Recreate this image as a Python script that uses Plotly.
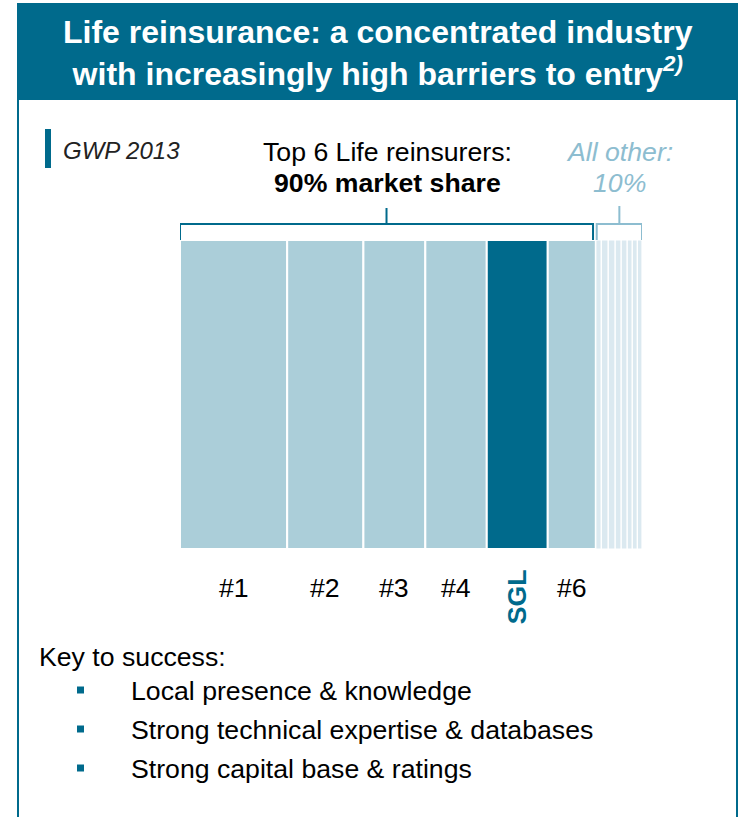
import plotly.graph_objects as go

# Market share of gross written premium 2013 (%), top 6 life reinsurers
players = ["#1", "#2", "#3", "#4", "SGL", "#6"]
shares = [23.2, 16.5, 13.4, 13.3, 13.2, 10.4]
# remaining market split across smaller reinsurers (%)
other_shares = [1.2, 1.5, 1.5, 1.3, 1.3, 1.1, 1.1, 1.0]

key_points = [
    "Local presence & knowledge",
    "Strong technical expertise & databases",
    "Strong capital base & ratings",
]

W, H = 742, 817
TEAL = "#006a8c"
LIGHT = "#abced9"
PALE = "#dbe9f0"
OTHER_TXT = "#8dbdd0"
FONT = "Liberation Sans, Arial, sans-serif"
BODY = 26.67   # 20 pt
TITLE = 32     # 24 pt
SMALL = 24     # 18 pt


def px(x):
    return x / W


def py(y):
    return 1 - y / H


def centers(widths, start=0.0):
    out, acc = [], start
    for w in widths:
        out.append(acc + w / 2)
        acc += w
    return out


top_total = sum(shares)
top_x = centers(shares)
other_x = centers(other_shares, top_total)
all_total = top_total + sum(other_shares)

fig = go.Figure()
fig.add_trace(go.Bar(
    x=top_x, y=[1] * len(shares), width=shares,
    marker=dict(color=[TEAL if p == "SGL" else LIGHT for p in players],
                line=dict(color="white", width=2)),
    hoverinfo="skip", showlegend=False,
))
fig.add_trace(go.Bar(
    x=other_x, y=[1] * len(other_shares), width=other_shares,
    marker=dict(color=PALE, line=dict(color="white", width=1.2)),
    hoverinfo="skip", showlegend=False,
))

fig.update_layout(
    width=W, height=H,
    margin=dict(l=0, r=0, t=0, b=0),
    paper_bgcolor="white", plot_bgcolor="white",
    barmode="overlay",
    xaxis=dict(domain=[px(180), px(642)], range=[0, all_total],
               visible=False, fixedrange=True),
    yaxis=dict(domain=[py(549), py(240)], range=[0, 1],
               visible=False, fixedrange=True),
    font=dict(family=FONT, color="black"),
)

shapes = []
# header band and outer frame
shapes.append(dict(type="rect", xref="paper", yref="paper",
                   x0=px(18), x1=px(737), y0=py(100), y1=py(3),
                   fillcolor=TEAL, line=dict(width=0), layer="below"))
for xv in (18, 737):
    shapes.append(dict(type="line", xref="paper", yref="paper",
                       x0=px(xv), x1=px(xv), y0=py(3), y1=py(817),
                       line=dict(color=TEAL, width=2)))
# marker bar beside "GWP 2013"
shapes.append(dict(type="rect", xref="paper", yref="paper",
                   x0=px(45), x1=px(51), y0=py(168), y1=py(129),
                   fillcolor=TEAL, line=dict(width=0)))


def bracket(x0, x1, color, top=206):
    mid = (x0 + x1) / 2
    path = (f"M {x0},{py(240)} L {x0},{py(224)} L {x1},{py(224)} L {x1},{py(240)}")
    s = [dict(type="path", xref="x", yref="paper", path=path,
              line=dict(color=color, width=2))]
    s.append(dict(type="line", xref="x", yref="paper", x0=mid, x1=mid,
                  y0=py(224), y1=py(top), line=dict(color=color, width=2)))
    return s


shapes += bracket(0, top_total - 0.6, TEAL, 208)
shapes += bracket(top_total + 0.2, all_total, OTHER_TXT, 206)

# bullets for key points
for i in range(len(key_points)):
    yc = 690 + i * 39
    shapes.append(dict(type="rect", xref="paper", yref="paper",
                       x0=px(77), x1=px(84), y0=py(yc + 3.5), y1=py(yc - 3.5),
                       fillcolor=TEAL, line=dict(width=0)))

fig.update_layout(shapes=shapes)

ann = []


def text(t, x, y, size, color="black", xanchor="center", xref="paper", **kw):
    ann.append(dict(text=t, xref=xref, yref="paper",
                    x=x if xref == "x" else px(x), y=py(y),
                    xanchor=xanchor, yanchor="middle", showarrow=False,
                    font=dict(size=size, color=color, family=FONT), **kw))


# two-line title in the header band
text("<b>Life reinsurance: a concentrated industry<br>"
     "with increasingly high barriers to entry<sup><i>2)</i></sup></b>",
     378, 53, TITLE, "white", align="center")

text("<i>GWP 2013</i>", 61, 150, SMALL, "#222222", xanchor="left")

text("Top 6 Life reinsurers:", top_total / 2, 152, BODY, xref="x")
text("<b>90% market share</b>", top_total / 2, 183, BODY, xref="x")
mid_other = (top_total + all_total) / 2 + 0.1
text("<i>All other:</i>", mid_other, 152, BODY, OTHER_TXT, xref="x")
text("<i>10%</i>", mid_other, 183, BODY, OTHER_TXT, xref="x")

for p, xc in zip(players, top_x):
    if p == "SGL":
        text("<b>SGL</b>", xc, 597, BODY, TEAL, xref="x", textangle=-90)
    else:
        text(p, xc, 588, BODY, xref="x")

text("Key to success:", 37, 657, BODY, xanchor="left")
for i, t in enumerate(key_points):
    text(t, 129, 691 + i * 39, BODY, xanchor="left")

fig.update_layout(annotations=ann)

fig.write_html("out.html", config=dict(displayModeBar=False))
